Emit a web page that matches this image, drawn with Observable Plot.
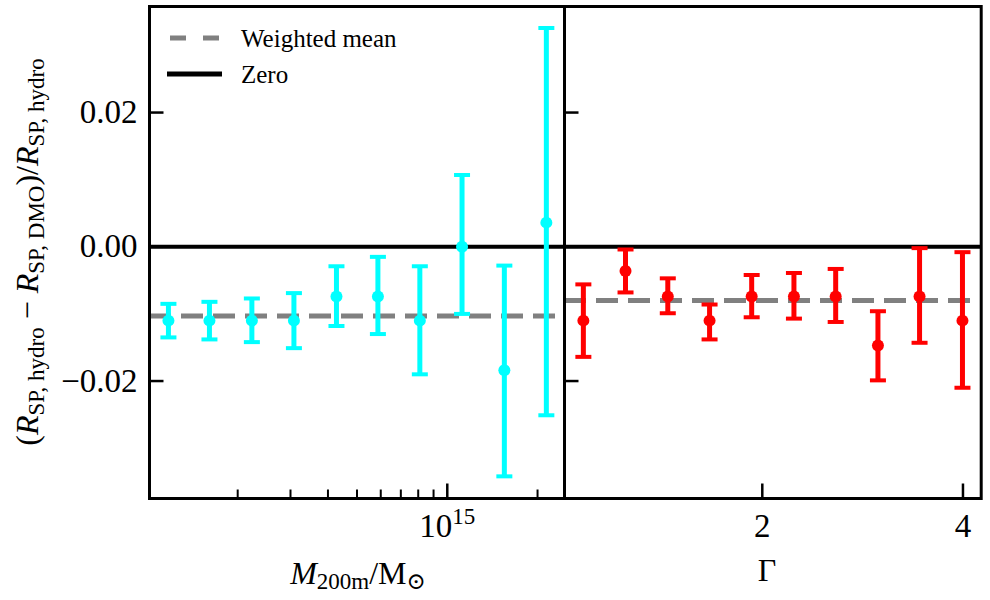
<!DOCTYPE html>
<html><head><meta charset="utf-8">
<script src="https://cdn.jsdelivr.net/npm/d3@7"></script>
<script src="https://cdn.jsdelivr.net/npm/@observablehq/plot@0.6"></script>
<style>
body{margin:0;background:#fff;}
#wrap{position:relative;width:990px;height:600px;}
#wrap svg{position:absolute;top:0;}
#wrap svg text, #wrap svg tspan{font-family:"Liberation Serif","DejaVu Serif",serif;}
</style></head><body><div id="wrap"></div>
<script>
// ---- data ----
const massX  = [1.175e14, 1.61e14, 2.23e14, 3.08e14, 4.27e14, 5.87e14, 8.1e14, 1.12e15, 1.55e15, 2.14e15];
const massY  = [-0.0110, -0.0110, -0.0110, -0.0110, -0.0074, -0.0074, -0.0110, 0.0000, -0.0184, 0.0036];
const massLo = [-0.0135, -0.0138, -0.0142, -0.0151, -0.0118, -0.0130, -0.0190, -0.0100, -0.0342, -0.0251];
const massHi = [-0.0085, -0.0082, -0.0077, -0.0069, -0.0029, -0.0015, -0.0029, 0.0107, -0.0028, 0.0326];

const gammaX  = [1.078, 1.247, 1.443, 1.667, 1.928, 2.231, 2.577, 2.982, 3.443, 3.993];
const gammaY  = [-0.0110, -0.0036, -0.0074, -0.0110, -0.0074, -0.0074, -0.0074, -0.0147, -0.0074, -0.0110];
const gammaLo = [-0.0164, -0.0068, -0.0099, -0.0138, -0.0105, -0.0107, -0.0112, -0.0199, -0.0143, -0.0210];
const gammaHi = [-0.0056, -0.0004, -0.0047, -0.0086, -0.0042, -0.0039, -0.0033, -0.0096, -0.0002, -0.0008];

const meanMass = -0.0103;
const meanGamma = -0.0080;

const yTicks = [-0.02, 0, 0.02];
const massMinorTicks = [2e14, 3e14, 4e14, 5e14, 6e14, 7e14, 8e14, 9e14, 2e15];
const massMajorTicks = [1e15];
const gammaTicks = [2, 4];

const legendLabels = ["Weighted mean", "Zero"];

// ---- helpers ----
const mass = massX.map((x, i) => ({x, y: massY[i], lo: massLo[i], hi: massHi[i]}));
const gamma = gammaX.map((x, i) => ({x, y: gammaY[i], lo: gammaLo[i], hi: gammaHi[i]}));

const capSym = {draw(ctx, size){const r = Math.sqrt(size/Math.PI); ctx.moveTo(-r,0); ctx.lineTo(r,0);}};
const tickRight = {draw(ctx, size){const r = Math.sqrt(size/Math.PI); ctx.moveTo(0,0); ctx.lineTo(r,0);}};
const tickUp = {draw(ctx, size){const r = Math.sqrt(size/Math.PI); ctx.moveTo(0,0); ctx.lineTo(0,-r);}};

const yFmt = d => d === 0 ? "0.00" : (d < 0 ? "\u2212" : "") + Math.abs(d).toFixed(2);
const FONT = "'Liberation Serif', 'DejaVu Serif', serif";
const yDomain = [-0.0375, 0.0358];

function errMarks(data, color){
  return [
    Plot.ruleX(data, {x:"x", y1:"lo", y2:"hi", stroke: color, strokeWidth: 5}),
    Plot.dot(data, {x:"x", y:"lo", symbol: capSym, r: 8, stroke: color, strokeWidth: 4, fill: "none"}),
    Plot.dot(data, {x:"x", y:"hi", symbol: capSym, r: 8, stroke: color, strokeWidth: 4, fill: "none"}),
    Plot.dot(data, {x:"x", y:"y", r: 6, fill: color, stroke: "none"})
  ];
}

const TICKFONT = 33;

const left = Plot.plot({
  width: 566, height: 600,
  marginLeft: 149, marginRight: 2, marginTop: 6, marginBottom: 102,
  x: {type: "log", domain: [1.016e14, 2.46e15], axis: null},
  y: {domain: yDomain, axis: null},
  style: {fontFamily: FONT, background: "transparent", overflow: "visible", color: "black"},
  marks: [
    Plot.ruleY([meanMass], {stroke: "#808080", strokeWidth: 5, strokeDasharray: "22,10"}),
    Plot.ruleY([0], {stroke: "black", strokeWidth: 4}),
    ...errMarks(mass, "#00ffff"),
    Plot.dot(yTicks, {y: d => d, frameAnchor: "left", symbol: tickRight, r: 14, stroke: "black", strokeWidth: 2.5, fill: "none"}),
    Plot.dot(massMinorTicks, {x: d => d, frameAnchor: "bottom", symbol: tickUp, r: 9, stroke: "black", strokeWidth: 2, fill: "none"}),
    Plot.dot(massMajorTicks, {x: d => d, frameAnchor: "bottom", symbol: tickUp, r: 15, stroke: "black", strokeWidth: 2.5, fill: "none"}),
    Plot.axisY(yTicks, {anchor: "left", label: null, tickSize: 0, tickPadding: 12, fontSize: TICKFONT, tickFormat: yFmt}),
    Plot.axisX(massMajorTicks, {anchor: "bottom", label: null, tickSize: 0, tickPadding: 15, fontSize: TICKFONT, tickFormat: () => "10"}),
    Plot.frame({stroke: "black", strokeWidth: 3})
  ]
});

const right = Plot.plot({
  width: 428, height: 600,
  marginLeft: 2, marginRight: 9.3, marginTop: 6, marginBottom: 102,
  x: {type: "log", domain: [1.01, 4.26], axis: null},
  y: {domain: yDomain, axis: null},
  style: {fontFamily: FONT, background: "transparent", overflow: "visible", color: "black"},
  marks: [
    Plot.ruleY([meanGamma], {stroke: "#808080", strokeWidth: 5, strokeDasharray: "22,10"}),
    Plot.ruleY([0], {stroke: "black", strokeWidth: 4}),
    ...errMarks(gamma, "#ff0000"),
    Plot.dot(yTicks, {y: d => d, frameAnchor: "left", symbol: tickRight, r: 14, stroke: "black", strokeWidth: 2.5, fill: "none"}),
    Plot.dot(gammaTicks, {x: d => d, frameAnchor: "bottom", symbol: tickUp, r: 15, stroke: "black", strokeWidth: 2.5, fill: "none"}),
    Plot.axisX(gammaTicks, {anchor: "bottom", label: null, tickSize: 0, tickPadding: 15, fontSize: TICKFONT, tickFormat: d => String(d)}),
    Plot.frame({stroke: "black", strokeWidth: 3})
  ]
});

left.style.left = "0px";
right.style.left = "562px";
const wrap = document.getElementById("wrap");
wrap.appendChild(left);
wrap.appendChild(right);

// superscript for 10^15
d3.select(left).selectAll('[aria-label="x-axis tick label"] text').each(function(){
  d3.select(this).append("tspan").attr("dy", -13).attr("font-size", 23).text("15");
});

const L = d3.select(left);
// x label left
const xl = L.append("text").attr("x", 358).attr("y", 584).attr("text-anchor", "middle")
  .attr("font-size", 32).attr("fill", "black");
xl.append("tspan").attr("font-style", "italic").text("M");
xl.append("tspan").attr("font-size", 23).attr("dy", 5).text("200m");
xl.append("tspan").attr("dy", -5).text("/M");
xl.append("tspan").attr("font-size", 23).attr("dy", 5).text("\u2299");

// y label
const yl = L.append("text").attr("transform", "translate(38,252) rotate(-90)").attr("text-anchor", "middle")
  .attr("font-size", 32).attr("fill", "black");
function rsub(sel, sub){
  sel.append("tspan").attr("font-style", "italic").text("R");
  sel.append("tspan").attr("font-size", 23).attr("dy", 6).text(sub);
}
yl.append("tspan").text("(");
rsub(yl, "SP, hydro");
yl.append("tspan").attr("dy", -6).text(" \u2212 ");
rsub(yl, "SP, DMO");
yl.append("tspan").attr("dy", -6).text(")/");
rsub(yl, "SP, hydro");

// legend
L.append("line").attr("x1", 170).attr("x2", 222).attr("y1", 38).attr("y2", 38)
  .attr("stroke", "#808080").attr("stroke-width", 5).attr("stroke-dasharray", "16,17");
L.append("text").attr("x", 241).attr("y", 47).attr("text-anchor", "start").attr("font-size", 25).attr("fill", "black").text(legendLabels[0]);
L.append("line").attr("x1", 167).attr("x2", 222).attr("y1", 74).attr("y2", 74)
  .attr("stroke", "black").attr("stroke-width", 5);
L.append("text").attr("x", 241).attr("y", 83).attr("text-anchor", "start").attr("font-size", 25).attr("fill", "black").text(legendLabels[1]);

// right x label
d3.select(right).append("text").attr("x", 767 - 562).attr("y", 581).attr("text-anchor", "middle")
  .attr("font-size", 32).attr("fill", "black").text("\u0393");
</script>
</body></html>
